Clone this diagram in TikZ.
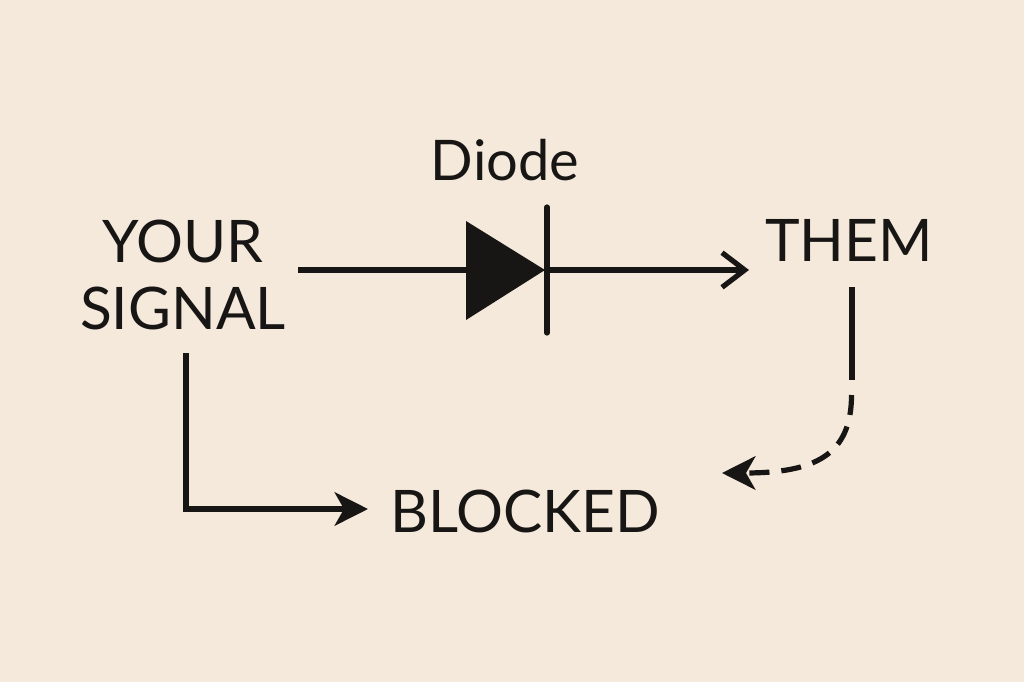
\documentclass[tikz,border=0pt]{standalone}
\usepackage{fontspec}
\setmainfont{Lato}
\usetikzlibrary{arrows.meta}
\definecolor{bg}{RGB}{244,233,219}
\definecolor{ink}{RGB}{24,22,20}
\begin{document}
\begin{tikzpicture}[x=0.75pt,y=-0.75pt,
  lbl/.style={text=ink,inner sep=0pt,font=\fontsize{44}{50}\selectfont,align=center},
  wire/.style={draw=ink,line width=3.9pt},
  solidtip/.style={-{Stealth[length=25pt,width=25pt,inset=7pt]}},
  barbtip/.style={-{Straight Barb[length=17pt,width=26pt]}}]
\fill[bg] (0,0) rectangle (1024,682);
\useasboundingbox (0,0) rectangle (1024,682);
% labels
\node[lbl] (sig) at (183,275) {YOUR\\SIGNAL};
\node[lbl] (them) at (849,240.5) {THEM};
\node[lbl] (blk) at (525,511.5) {BLOCKED};
\node[lbl,anchor=base,font=\fontsize{42}{48}\selectfont] (dlab) at (505,180) {Diode};
% diode symbol
\coordinate (dA) at (466,270);
\coordinate (dK) at (547,270);
\fill[ink] (466,221) -- (545,270) -- (466,320) -- cycle;
\draw[wire,line cap=round] (547,207) -- (547,333);
% connectors
\coordinate (sigE) at (298,270);
\coordinate (themW) at (749,270);
\draw[wire] (sigE) -- (dA);
\draw[wire,barbtip] (dK) -- (themW);
\coordinate (sigS) at (186,353);
\coordinate (blkW) at (368,509);
\draw[wire,solidtip] (sigS) |- (blkW);
\coordinate (themS) at (852,287);
\coordinate (themS2) at (852,380);
\coordinate (retEnd) at (722,473);
\draw[wire] (themS) -- (themS2);
\draw[wire,solidtip,dash pattern=on 15pt off 9pt] (851.5,395) .. controls (851.5,455) and (815,473) .. (retEnd);
\end{tikzpicture}
\end{document}
